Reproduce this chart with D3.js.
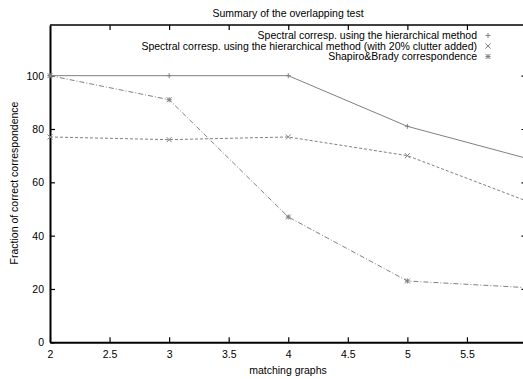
<!DOCTYPE html>
<html><head><meta charset="utf-8">
<script src="https://cdn.jsdelivr.net/npm/d3@7"></script>
<style>body{margin:0;background:#fff}svg{display:block}text{font-family:"Liberation Sans",Arial,sans-serif;fill:#000}</style>
</head><body>
<script>
const xValues = [2, 3, 4, 5, 6];
const seriesNames = [
  "Spectral corresp. using the hierarchical method",
  "Spectral corresp. using the hierarchical method (with 20% clutter added)",
  "Shapiro&Brady correspondence"
];
const spectral = [100, 100, 100, 81, 69];
const spectralClutter = [77, 76, 77, 70, 53];
const shapiroBrady = [100, 91, 47, 23, 20.5];
const xTicks = [2, 2.5, 3, 3.5, 4, 4.5, 5, 5.5];
const yTicks = [0, 20, 40, 60, 80, 100];
const title = "Summary of the overlapping test";
const xTitle = "matching graphs";
const yTitle = "Fraction of correct correspondence";

const W = 523, H = 379;
const svg = d3.select("body").append("svg").attr("width", W).attr("height", H);
const x = d3.scaleLinear().domain([2, 6]).range([50, 526.5]);
const y = d3.scaleLinear().domain([0, 119]).range([342.3, 25]);
const fs = 10.5;
const ff = '"Liberation Sans",Arial,sans-serif';

// title
svg.append("text").attr("x", 288).attr("y", 17).attr("text-anchor", "middle").attr("font-size", fs).text(title);

// frame
svg.append("line").attr("x1", x(2)).attr("x2", x(6)).attr("y1", y(119)).attr("y2", y(119)).attr("stroke", "#000").attr("stroke-width", 1.3);
svg.append("line").attr("x1", x(6)).attr("x2", x(6)).attr("y1", y(0)).attr("y2", y(119)).attr("stroke", "#000").attr("stroke-width", 1.3);

// bottom axis
const xAxis = d3.axisBottom(x).tickValues(xTicks).tickSizeInner(-5).tickSizeOuter(0).tickPadding(8).tickFormat(d3.format("~g"));
const gx = svg.append("g").attr("transform", `translate(0,${y(0)})`).call(xAxis);
gx.select(".domain").attr("stroke-width", 2);
gx.selectAll(".tick line").attr("stroke-width", 1.2);
gx.selectAll("text").attr("font-size", fs).attr("font-family", ff);
// top ticks
const xTop = d3.axisTop(x).tickValues(xTicks.slice(1)).tickSizeInner(-5).tickSizeOuter(0).tickFormat("");
const gt = svg.append("g").attr("transform", `translate(0,${y(119)})`).call(xTop);
gt.select(".domain").remove();
gt.selectAll(".tick line").attr("stroke-width", 1.2);

// left axis
const yAxis = d3.axisLeft(y).tickValues(yTicks).tickSizeInner(-5).tickSizeOuter(0).tickPadding(6);
const gy = svg.append("g").attr("transform", `translate(${x(2)},0)`).call(yAxis);
gy.select(".domain").attr("stroke-width", 2);
gy.selectAll(".tick line").attr("stroke-width", 1.2);
gy.selectAll("text").attr("font-size", fs).attr("font-family", ff);
// right ticks
const yRight = d3.axisRight(y).tickValues(yTicks.slice(1)).tickSizeInner(-5).tickSizeOuter(0).tickFormat("");
const gr = svg.append("g").attr("transform", `translate(${x(6)},0)`).call(yRight);
gr.select(".domain").remove();
gr.selectAll(".tick line").attr("stroke-width", 1.2);

// axis titles
svg.append("text").attr("x", 288).attr("y", 374).attr("text-anchor", "middle").attr("font-size", fs).text(xTitle);
svg.append("text").attr("transform", "translate(17.5,183) rotate(-90)").attr("text-anchor", "middle").attr("font-size", fs).text(yTitle);

// series
const series = [
  {vals: spectral, dash: null, marker: "plus"},
  {vals: spectralClutter, dash: "3,2", marker: "cross"},
  {vals: shapiroBrady, dash: "5,2,1,2", marker: "star"}
];
const line = d3.line().x(d => x(d[0])).y(d => y(d[1]));
const color = "#808080";
function marker(sel, type, cx, cy) {
  const s = 2.5;
  const p = sel.append("path").attr("fill", "none").attr("stroke", color).attr("stroke-width", 1);
  let d = "";
  if (type === "plus" || type === "star") d += `M${cx - s},${cy}H${cx + s}M${cx},${cy - s}V${cy + s}`;
  if (type === "cross" || type === "star") d += `M${cx - s},${cy - s}L${cx + s},${cy + s}M${cx - s},${cy + s}L${cx + s},${cy - s}`;
  p.attr("d", d);
}
series.forEach(s => {
  const pts = xValues.map((xv, i) => [xv, s.vals[i]]);
  const gs = svg.append("g");
  gs.append("path").attr("d", line(pts)).attr("fill", "none").attr("stroke", color).attr("stroke-width", 1)
    .attr("stroke-dasharray", s.dash);
  pts.forEach(p => marker(gs, s.marker, x(p[0]), y(p[1])));
});

// legend
series.forEach((s, i) => {
  const ly = 35.5 + i * 10.5;
  svg.append("text").attr("x", 477).attr("y", ly + 3.7).attr("text-anchor", "end").attr("font-size", fs).text(seriesNames[i]);
  marker(svg, s.marker, 488, ly);
});
</script>
</body></html>
